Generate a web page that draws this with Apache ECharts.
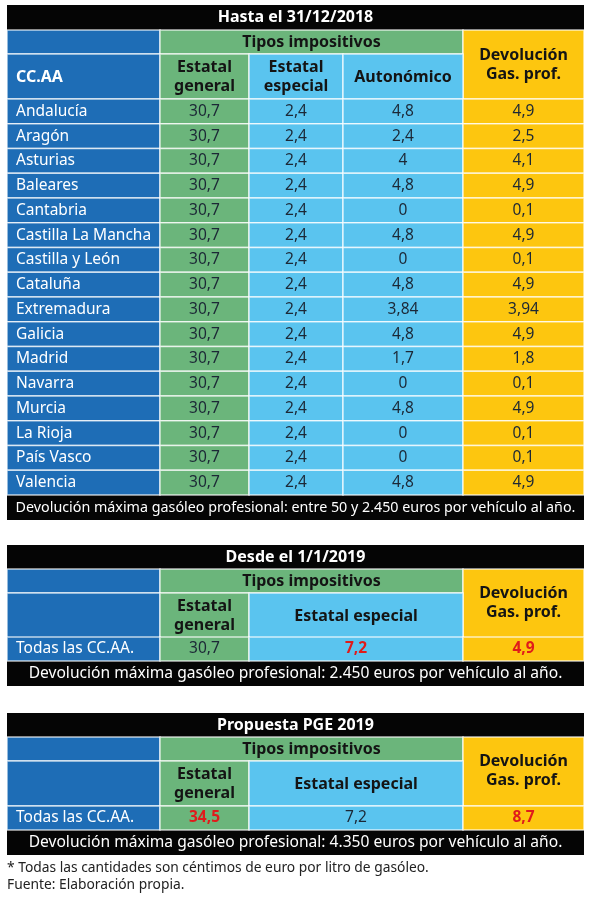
<!DOCTYPE html>
<html><head><meta charset="utf-8">
<script src="https://cdn.jsdelivr.net/npm/echarts@6/dist/echarts.min.js"></script>
<style>html,body{margin:0;padding:0;background:#fff}#c{width:598px;height:897px}</style>
</head><body><div id="c"></div><script>
// ---- DATA ----
const regions = ['Andalucía','Aragón','Asturias','Baleares','Cantabria','Castilla La Mancha','Castilla y León','Cataluña','Extremadura','Galicia','Madrid','Navarra','Murcia','La Rioja','País Vasco','Valencia'];
const estatalGeneral = [30.7,30.7,30.7,30.7,30.7,30.7,30.7,30.7,30.7,30.7,30.7,30.7,30.7,30.7,30.7,30.7];
const estatalEspecial = [2.4,2.4,2.4,2.4,2.4,2.4,2.4,2.4,2.4,2.4,2.4,2.4,2.4,2.4,2.4,2.4];
const autonomico = [4.8,2.4,4,4.8,0,4.8,0,4.8,3.84,4.8,1.7,0,4.8,0,0,4.8];
const devolucionGas = [4.9,2.5,4.1,4.9,0.1,4.9,0.1,4.9,3.94,4.9,1.8,0.1,4.9,0.1,0.1,4.9];

const rowsAll = ['Todas las CC.AA.'];
const general2019 = [30.7];
const especial2019 = [7.2];
const devolucion2019 = [4.9];
const generalPGE = [34.5];
const especialPGE = [7.2];
const devolucionPGE = [8.7];

const titles = ['Hasta el 31/12/2018','Desde el 1/1/2019','Propuesta PGE 2019'];
const footers = [
  'Devolución máxima gasóleo profesional: entre 50 y 2.450 euros por vehículo al año.',
  'Devolución máxima gasóleo profesional: 2.450 euros por vehículo al año.',
  'Devolución máxima gasóleo profesional: 4.350 euros por vehículo al año.'
];
const notes = ['* Todas las cantidades son céntimos de euro por litro de gasóleo.','Fuente: Elaboración propia.'];

// ---- STYLE / LAYOUT ----
const FF = 'Noto Sans';
const BLUE = '#1e6db6', GREEN = '#6bb57b', LBLUE = '#5ac4ef', YELLOW = '#fdc60f';
const SEP = 'rgba(255,255,255,0.72)';
const NUM = '#1c2836', RED = '#e01b1b';
const L = 7, R = 584, C1 = 160, C2 = 249, C3 = 343, C4 = 463;
const HS = 16, BS = 15.5;
const fmt = v => String(v).replace('.', ',');

const graphic = [];
function gRect(x0, y0, x1, y1, fill, stroke) {
  graphic.push({type:'rect', z:1, shape:{x:x0, y:y0, width:x1-x0, height:y1-y0},
    style:{fill, stroke: stroke === false ? null : SEP, lineWidth:1.5}});
}
function gText(x, y, text, o) {
  o = o || {};
  graphic.push({type:'text', z:3, x, y, style:{text, align:o.align||'center', verticalAlign:'middle',
    fill:o.fill||'#141414', font:(o.weight||'bold')+' '+(o.size||HS)+'px "'+FF+'"'}});
}
function two(x, yc, a, b) { gText(x, yc-9.5, a); gText(x, yc+9.5, b); }

// Table 1 header
gRect(L,5,R,30,'#050505',false); gText((L+R)/2,17.5,titles[0],{fill:'#fff'});
gRect(L,30,C1,54,BLUE); gRect(C1,30,C4,54,GREEN); gText((C1+C4)/2,42,'Tipos impositivos');
gRect(C4,30,R,99,YELLOW); two((C4+R)/2,65,'Devolución','Gas. prof.');
gRect(L,54,C1,99,BLUE); gText(16,77,'CC.AA',{align:'left',fill:'#fff'});
gRect(C1,54,C2,99,GREEN); two((C1+C2)/2,76.5,'Estatal','general');
gRect(C2,54,C3,99,LBLUE); two((C2+C3)/2,76.5,'Estatal','especial');
gRect(C3,54,C4,99,LBLUE); gText((C3+C4)/2,77,'Autonómico');
gRect(L,495,R,520,'#050505',false); gText((L+R)/2,507.5,footers[0],{fill:'#fff',weight:'normal',size:14.3});

// Table 2/3 headers
function smallHeader(top, title, footerTop, footer) {
  gRect(L,top,R,top+24,'#050505',false); gText((L+R)/2,top+12,title,{fill:'#fff'});
  gRect(L,top+24,C1,top+48,BLUE); gRect(C1,top+24,C4,top+48,GREEN);
  gText((C1+C4)/2,top+36,'Tipos impositivos');
  gRect(C4,top+24,R,top+93,YELLOW); two((C4+R)/2,top+58,'Devolución','Gas. prof.');
  gRect(L,top+48,C1,top+93,BLUE);
  gRect(C1,top+48,C2,top+93,GREEN); two((C1+C2)/2,top+70.5,'Estatal','general');
  gRect(C2,top+48,C4,top+93,LBLUE); gText((C2+C4)/2,top+71,'Estatal especial');
  gRect(L,footerTop,R,footerTop+25,'#050505',false);
  gText((L+R)/2,footerTop+12.5,footer,{fill:'#fff',weight:'normal',size:15.6});
}
smallHeader(545,titles[1],661,footers[1]);
smallHeader(713,titles[2],830,footers[2]);
gText(L,868,notes[0],{align:'left',weight:'normal',size:13.8,fill:'#222'});
gText(L,885,notes[1],{align:'left',weight:'normal',size:13.8,fill:'#222'});

// ---- Cells via custom series on axes ----
const edges1 = [0, C1-L, C2-L, C3-L, C4-L, R-L];
const edges2 = [0, C1-L, C2-L, C4-L, R-L];
const fills1 = [BLUE, GREEN, LBLUE, LBLUE, YELLOW];
const fills2 = [BLUE, GREEN, LBLUE, YELLOW];

function buildData(cols) {
  const d = [];
  cols.forEach((arr, c) => arr.forEach((v, r) => d.push([c, r, v])));
  return d;
}
function renderer(edges, fills, names, styleFn) {
  return function (params, api) {
    const c = api.value(0), r = api.value(1), v = api.value(2);
    const p0 = api.coord([edges[c], r]);
    const p1 = api.coord([edges[c+1], r]);
    const h = api.size([0, 1])[1];
    const isName = c === 0;
    const st = styleFn(c);
    return {type:'group', children:[
      {type:'rect', shape:{x:p0[0], y:p0[1]-h/2, width:p1[0]-p0[0], height:h},
        style:{fill:fills[c], stroke:SEP, lineWidth:1.5}},
      {type:'text', z2:5, style:{text: isName ? names[r] : fmt(v),
        x: isName ? p0[0]+9 : (p0[0]+p1[0])/2, y: p0[1],
        align: isName ? 'left' : 'center', verticalAlign:'middle',
        fill: isName ? '#fff' : st.color, font: st.weight+' '+BS+'px "'+FF+'"'}}
    ]};
  };
}
const idx1 = regions.map((_, i) => i);
const idx2 = rowsAll.map((_, i) => i);

const grids = [
  {left:L, width:R-L, top:99, height:396},
  {left:L, width:R-L, top:637, height:24},
  {left:L, width:R-L, top:806, height:24}
];
const option = {
  animation:false,
  grid: grids,
  xAxis: grids.map((g, i) => ({gridIndex:i, type:'value', min:0, max:R-L, show:false})),
  yAxis: [
    {gridIndex:0, type:'category', data:regions, inverse:true, show:false},
    {gridIndex:1, type:'category', data:rowsAll, inverse:true, show:false},
    {gridIndex:2, type:'category', data:rowsAll, inverse:true, show:false}
  ],
  series: [
    {type:'custom', xAxisIndex:0, yAxisIndex:0, clip:false,
     data: buildData([idx1, estatalGeneral, estatalEspecial, autonomico, devolucionGas]),
     renderItem: renderer(edges1, fills1, regions, c => ({color:NUM, weight:'normal'}))},
    {type:'custom', xAxisIndex:1, yAxisIndex:1, clip:false,
     data: buildData([idx2, general2019, especial2019, devolucion2019]),
     renderItem: renderer(edges2, fills2, rowsAll, c => (c >= 2 ? {color:RED, weight:'bold'} : {color:NUM, weight:'normal'}))},
    {type:'custom', xAxisIndex:2, yAxisIndex:2, clip:false,
     data: buildData([idx2, generalPGE, especialPGE, devolucionPGE]),
     renderItem: renderer(edges2, fills2, rowsAll, c => ((c === 1 || c === 3) ? {color:RED, weight:'bold'} : {color:NUM, weight:'normal'}))}
  ],
  graphic: graphic
};
const chart = echarts.init(document.getElementById('c'), null, {renderer:'canvas'});
chart.setOption(option);
</script></body></html>
